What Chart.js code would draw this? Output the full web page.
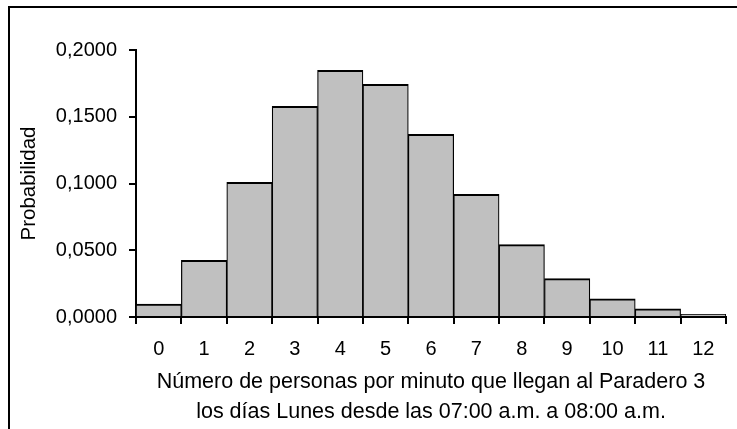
<!DOCTYPE html>
<html>
<head>
<meta charset="utf-8">
<script src="https://cdn.jsdelivr.net/npm/chart.js@4"></script>
<style>
  html, body { margin: 0; padding: 0; background: #fff; overflow: hidden; }
  #wrap { position: relative; width: 737px; height: 429px; }
  #frame { position: absolute; left: 8px; top: 6px; width: 800px; height: 500px;
           border-top: 2px solid #000; border-left: 2px solid #000; pointer-events: none; }
</style>
</head>
<body>
<div id="wrap">
  <canvas id="grafico" width="737" height="429"></canvas>
  <div id="frame"></div>
</div>
<script>
// Personas por minuto (eje X)
const personas = ['0', '1', '2', '3', '4', '5', '6', '7', '8', '9', '10', '11', '12'];
// Probabilidad
const probabilidad = [0.0097, 0.0425, 0.1009, 0.1578, 0.1848, 0.1743, 0.1369,
                      0.0919, 0.0542, 0.0287, 0.0137, 0.0062, 0.0020];
const tituloX = ['Número de personas por minuto que llegan al Paradero 3',
                 'los días Lunes desde las 07:00 a.m. a 08:00 a.m.'];
const tituloY = 'Probabilidad';

const fuente = { family: '"Liberation Sans", Arial, sans-serif', size: 20 };

new Chart(document.getElementById('grafico').getContext('2d'), {
  type: 'bar',
  data: {
    labels: personas,
    datasets: [{
      data: probabilidad,
      backgroundColor: '#c0c0c0',
      borderColor: '#000',
      borderWidth: { top: 2, left: 1.2, right: 1.2, bottom: 0 },
      borderSkipped: false,
      barPercentage: 1,
      categoryPercentage: 1
    }]
  },
  options: {
    responsive: false,
    animation: false,
    layout: { padding: { top: 50, right: 11, left: 0, bottom: 0 } },
    plugins: { legend: { display: false }, tooltip: { enabled: false } },
    scales: {
      x: {
        grid: { offset: true, drawOnChartArea: false, drawTicks: true, tickLength: 7, color: '#000', lineWidth: 2 },
        border: { display: true, color: '#000', width: 2 },
        ticks: { color: '#000', font: fuente, padding: 13, maxRotation: 0, autoSkip: false },
        title: { display: true, text: tituloX, color: '#000', font: { ...fuente, size: 21.5, lineHeight: 1.4 }, padding: { top: 0, bottom: 2 } },
        afterFit: (s) => { s.height = 112; }
      },
      y: {
        min: 0,
        max: 0.2,
        grid: { drawOnChartArea: false, drawTicks: true, tickLength: 7, color: '#000', lineWidth: 2 },
        border: { display: true, color: '#000', width: 2 },
        ticks: {
          stepSize: 0.05,
          color: '#000',
          font: fuente,
          padding: 12,
          callback: (v) => v.toFixed(4).replace('.', ',')
        },
        title: { display: true, text: tituloY, color: '#000', font: { ...fuente, size: 20.5 }, padding: { top: 17, bottom: 0 } },
        afterFit: (s) => { s.width = 136; }
      }
    }
  }
});
</script>
</body>
</html>
